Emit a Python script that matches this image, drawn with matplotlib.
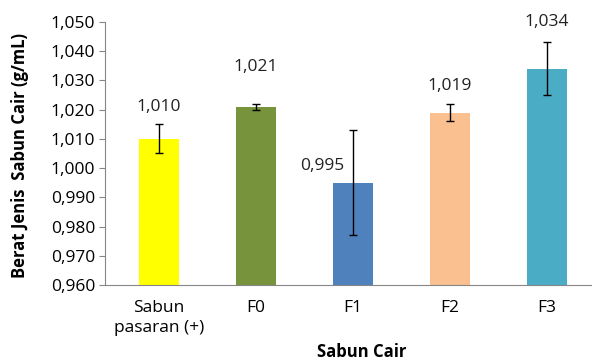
import numpy as np
import matplotlib.pyplot as plt

# data
categories = ['Sabun\npasaran (+)', 'F0', 'F1', 'F2', 'F3']
values = [1.010, 1.021, 0.995, 1.019, 1.034]
errors = [0.005, 0.001, 0.018, 0.003, 0.009]
colors = ['#FFFF00', '#77933C', '#4F81BD', '#FAC090', '#4BACC6']
yticks = np.arange(0.960, 1.0501, 0.010)

# label placement (data coords, as Excel put them)
label_dy = [0.011, 0.0136, 0.0057, 0.009, 0.016]
label_dx = [0, 0, -0.32, 0, 0]

plt.rcParams['font.family'] = ['Open Sans', 'DejaVu Sans']

fig = plt.figure(figsize=(5.92, 3.62), dpi=100)
ax = fig.add_axes([105/592, 1 - 285/362, 1 - 105/592, (285 - 22)/362])

x = np.arange(len(categories))
ax.bar(x, values, width=0.41, color=colors, zorder=2)
ax.errorbar(x, values, yerr=errors, fmt='none', ecolor='black',
            elinewidth=1, capsize=3, capthick=1, zorder=3)

for xi, v, dy, dx in zip(x, values, label_dy, label_dx):
    ax.text(xi + dx, v + dy, f'{v:.3f}'.replace('.', ','), ha='center',
            va='center', fontsize=12.5, color='#222222')

ax.set_ylim(0.960, 1.050)
ax.set_xlim(-0.557, 4.464)
ax.set_yticks(yticks)
ax.set_yticklabels([f'{t:.3f}'.replace('.', ',') for t in yticks], fontsize=12.5)
ax.set_xticks(x)
ax.set_xticklabels(categories, fontsize=12.5, linespacing=1.35)
ax.tick_params(axis='x', length=0, pad=11)
ax.tick_params(axis='y', length=4, color='#868686', pad=3)

for s in ['top', 'right']:
    ax.spines[s].set_visible(False)
for s in ['left', 'bottom']:
    ax.spines[s].set_color('#868686')

fig.text(362/592, 1 - 352/362, 'Sabun Cair', ha='center', va='center',
         fontsize=12, fontweight='bold')
fig.text(20/592, 1 - 156/362, 'Berat Jenis  Sabun Cair (g/mL)', ha='center',
         va='center', rotation=90, fontsize=12, fontweight='bold')

fig.savefig('out.png', dpi=100)
